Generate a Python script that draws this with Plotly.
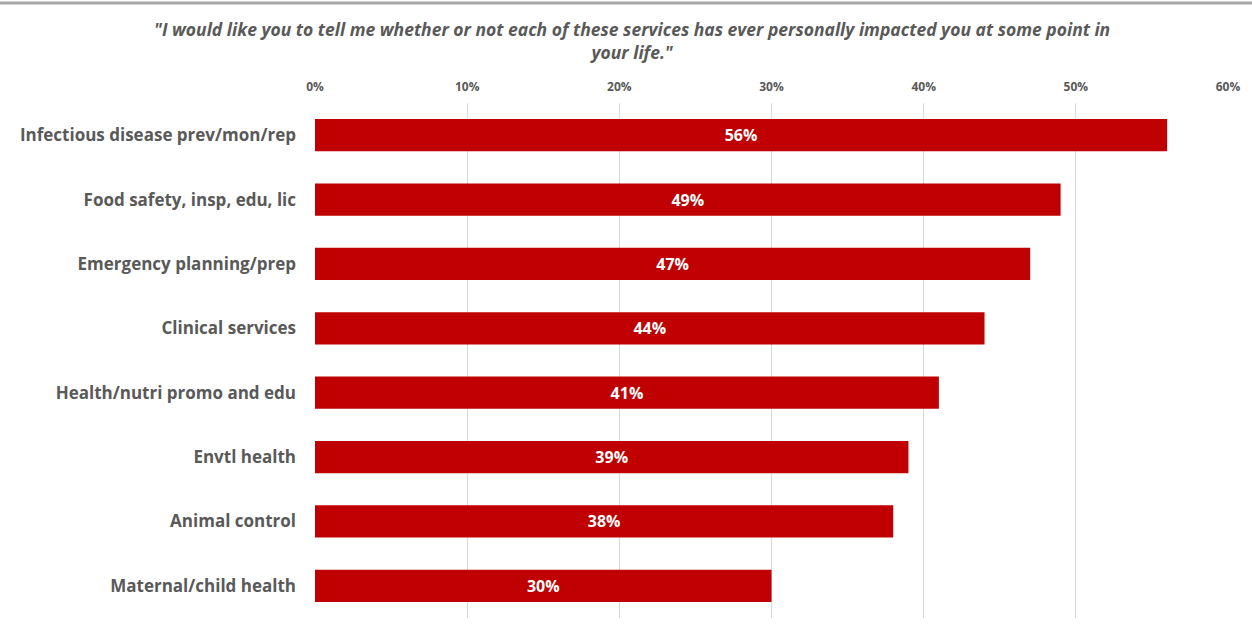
import plotly.graph_objects as go

services = [
    "Infectious disease prev/mon/rep",
    "Food safety, insp, edu, lic",
    "Emergency planning/prep",
    "Clinical services",
    "Health/nutri promo and edu",
    "Envtl health",
    "Animal control",
    "Maternal/child health",
]
impacted_pct = [56, 49, 47, 44, 41, 39, 38, 30]
tick_vals = [0, 10, 20, 30, 40, 50, 60]
tick_text = ["0%", "10%", "20%", "30%", "40%", "50%", "60%"]

FONT = "Open Sans, sans-serif"
GRAY = "#595959"

PLOT_W = 1252 - 315 - 24
PLOT_H = 628 - 103 - 10

fig = go.Figure(
    go.Bar(
        x=impacted_pct,
        y=services,
        orientation="h",
        marker=dict(color="#C00000", line=dict(width=0)),
        width=0.5,
        text=[f"{v}%" for v in impacted_pct],
        textposition="inside",
        insidetextanchor="middle",
        textfont=dict(family=FONT, size=16, color="white", weight="bold"),
        hoverinfo="skip",
    )
)

fig.update_layout(
    width=1252,
    height=628,
    margin=dict(l=315, r=24, t=103, b=10),
    paper_bgcolor="white",
    plot_bgcolor="white",
    showlegend=False,
    xaxis=dict(
        range=[0, 60],
        side="top",
        tickvals=tick_vals,
        ticktext=tick_text,
        tickfont=dict(family=FONT, size=12, color=GRAY, weight="bold"),
        showgrid=True,
        gridcolor="#D9D9D9",
        gridwidth=1,
        zeroline=False,
        showline=False,
        ticks="",
        ticklabelstandoff=9,
        fixedrange=True,
    ),
    yaxis=dict(
        autorange="reversed",
        tickfont=dict(family=FONT, size=17, color=GRAY, weight="bold"),
        ticks="",
        showgrid=False,
        showline=False,
        ticklabelstandoff=18,
        fixedrange=True,
    ),
    annotations=[
        dict(
            text='<i>"I would like you to tell me whether or not each of these services has ever personally impacted you at some point in<br>your life."</i>',
            x=(632 - 315) / PLOT_W, xref="paper", xanchor="center",
            y=1, yref="paper", yanchor="bottom",
            yshift=37,
            showarrow=False,
            font=dict(family=FONT, size=17.5, color=GRAY, weight="bold"),
            align="center",
        )
    ],
    shapes=[
        dict(type="line", xref="paper", yref="paper",
             x0=-315 / PLOT_W, x1=1 + 24 / PLOT_W,
             y0=1 + 100 / PLOT_H, y1=1 + 100 / PLOT_H,
             line=dict(color="#A6A6A6", width=3)),
    ],
)

fig.write_html("out.html")
